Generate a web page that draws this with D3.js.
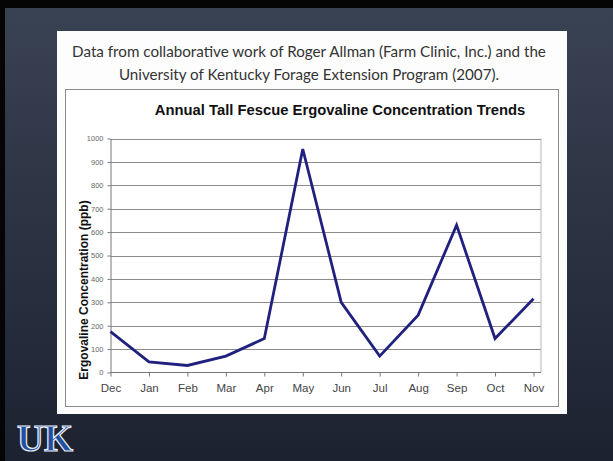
<!DOCTYPE html>
<html>
<head>
<meta charset="utf-8">
<script src="https://cdn.jsdelivr.net/npm/d3@7"></script>
<style>
  html, body { margin: 0; padding: 0; background: #000; }
  svg { display: block; }
</style>
</head>
<body>
<svg id="chart" width="613" height="461"></svg>
<script>
// ---- data ----
const months = ["Dec","Jan","Feb","Mar","Apr","May","Jun","Jul","Aug","Sep","Oct","Nov"];
const ergovaline = [175, 45, 30, 70, 145, 955, 300, 70, 245, 630, 145, 315];
const yTicks = [0,100,200,300,400,500,600,700,800,900,1000];
const subtitleLines = [
  "Data from collaborative work of Roger Allman (Farm Clinic, Inc.) and the",
  "University of Kentucky Forage Extension Program (2007)."
];
const chartTitle = "Annual Tall Fescue Ergovaline Concentration Trends";
const yAxisTitle = "Ergovaline Concentration (ppb)";
const logoText = "UK";

const svg = d3.select("#chart");

// background gradient
const defs = svg.append("defs");
const grad = defs.append("linearGradient").attr("id","bg").attr("x1",0).attr("y1",0).attr("x2",0).attr("y2",1);
grad.append("stop").attr("offset","0%").attr("stop-color","#3a4354");
grad.append("stop").attr("offset","100%").attr("stop-color","#1c2230");
svg.append("rect").attr("x",0).attr("y",0).attr("width",613).attr("height",461).attr("fill","url(#bg)");
// black frame edges
svg.append("rect").attr("x",0).attr("y",0).attr("width",613).attr("height",8).attr("fill","#050505");
svg.append("rect").attr("x",0).attr("y",0).attr("width",5).attr("height",461).attr("fill","#050505");

// white panel
svg.append("rect").attr("x",57).attr("y",31).attr("width",510).attr("height",383).attr("fill","#fdfdfd");

// subtitle
svg.append("g").selectAll("text").data(subtitleLines).join("text")
  .attr("x", 309).attr("y", (d,i) => 57 + i*23)
  .attr("text-anchor","middle")
  .attr("font-family","Lato, 'Open Sans', sans-serif")
  .attr("font-size", 15.2)
  .attr("fill","#333")
  .text(d => d);

// chart frame
svg.append("rect").attr("x",65.5).attr("y",89.5).attr("width",493).attr("height",317)
  .attr("fill","#fff").attr("stroke","#8a8a8a").attr("stroke-width",1);

svg.append("text").attr("x",340).attr("y",115).attr("text-anchor","middle")
  .attr("font-family","Arial, 'Liberation Sans', sans-serif").attr("font-weight","bold")
  .attr("font-size",14.8).attr("fill","#111").text(chartTitle);

// scales
const plotL = 110.5, plotR = 541, plotT = 138.5, plotB = 372.5;
const x = d3.scalePoint().domain(months).range([110.5, 533.5]);
const y = d3.scaleLinear().domain([0,1000]).range([plotB, plotT]);

// gridlines
svg.append("g").selectAll("line").data(yTicks.filter(v => v > 0)).join("line")
  .attr("x1", plotL).attr("x2", plotR)
  .attr("y1", d => Math.round(y(d)) + 0.5).attr("y2", d => Math.round(y(d)) + 0.5)
  .attr("stroke","#8c8c8c").attr("stroke-width",1.2);
// plot right edge
svg.append("line").attr("x1",plotR).attr("x2",plotR).attr("y1",plotT).attr("y2",plotB)
  .attr("stroke","#b5b5b5").attr("stroke-width",1);

// y axis
const yAxis = svg.append("g").attr("transform",`translate(${plotL},0)`)
  .call(d3.axisLeft(y).tickValues(yTicks).tickFormat(d3.format("d")).tickSize(3).tickSizeOuter(0).tickPadding(4));
yAxis.select(".domain").attr("stroke","#777");
yAxis.selectAll(".tick line").attr("stroke","#777");
yAxis.selectAll(".tick text").attr("font-family","Arial, 'Liberation Sans', sans-serif")
  .attr("font-size",7.5).attr("fill","#666");

// x axis
const xAxis = svg.append("g").attr("transform",`translate(0,${plotB})`)
  .call(d3.axisBottom(x).tickSize(4).tickSizeOuter(0).tickPadding(7));
xAxis.select(".domain").attr("d", `M${plotL},0H${plotR}`).attr("stroke","#777");
xAxis.selectAll(".tick line").attr("stroke","#777");
xAxis.selectAll(".tick text").attr("font-family","Arial, 'Liberation Sans', sans-serif")
  .attr("font-size",11.5).attr("fill","#444");

// y axis title
svg.append("text").attr("transform","translate(88,290) rotate(-90)")
  .attr("text-anchor","middle")
  .attr("font-family","Arial, 'Liberation Sans', sans-serif").attr("font-weight","bold")
  .attr("font-size",12).attr("fill","#111").text(yAxisTitle);

// line
const line = d3.line().x((d,i) => x(months[i])).y(d => y(d));
svg.append("path").datum(ergovaline).attr("d", line)
  .attr("fill","none").attr("stroke","#20207f").attr("stroke-width",2.8)
  .attr("stroke-linejoin","miter");

// UK logo (text)
svg.append("text").attr("x",17).attr("y",451)
  .attr("font-family","'Liberation Serif', 'DejaVu Serif', serif").attr("font-weight","bold")
  .attr("font-size",37).attr("textLength",56).attr("lengthAdjust","spacingAndGlyphs")
  .attr("fill","#1f4f9e").attr("stroke","#e8eef8").attr("stroke-width",1.2)
  .text(logoText);
</script>
</body>
</html>
